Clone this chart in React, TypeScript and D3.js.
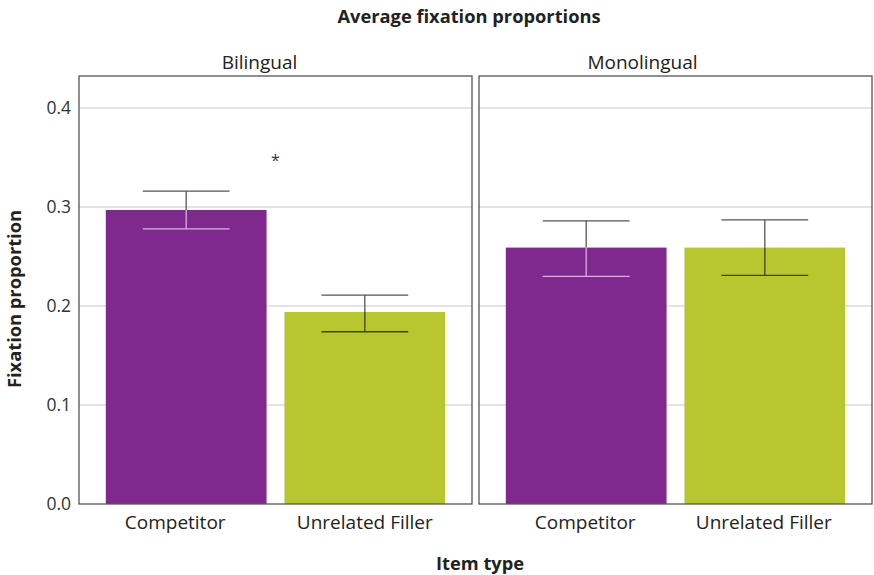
import * as d3 from 'd3';
import React from 'react';

// facets, categories and values
const panels = ['Bilingual', 'Monolingual'];
const itemTypes = ['Competitor', 'Unrelated Filler'];
const means = [
  [0.297, 0.194],
  [0.259, 0.259],
];
const lowers = [
  [0.278, 0.174],
  [0.23, 0.231],
];
const uppers = [
  [0.316, 0.211],
  [0.286, 0.287],
];
const yTicks = [0, 0.1, 0.2, 0.3, 0.4];
const markers = [{ panel: 'Bilingual', value: 0.35, label: '*' }];

const barColors = ['#7f288e', '#b8c630'];
const innerErrColors = ['#d9b1e0', '#3f4418'];

// label nudges as they sit in the reference
const stripNudge = [-16, -33];
const tickNudge = [
  [-11, 0],
  [-1, -1],
];

const font = '"Open Sans", "Noto Sans", sans-serif';

export default function App() {
  const width = 874;
  const height = 575;
  const top = 76;
  const bottom = 504;
  const panelLeft = 79;
  const panelW = 393;
  const panelGap = 7;

  const y = d3.scaleLinear().domain([0, 0.4]).range([bottom, 108]);
  const panelX = d3
    .scaleOrdinal<string, number>()
    .domain(panels)
    .range(panels.map((p, i) => panelLeft + i * (panelW + panelGap)));

  return (
    <svg width={width} height={height} style={{ position: 'absolute', left: 0, top: 0, fontFamily: font }}>
      <rect width={width} height={height} fill="#fff" />
      <text x={469} y={23} textAnchor="middle" fontSize={18.3} fontWeight="bold" fill="#222">
        Average fixation proportions
      </text>

      {/* y axis labels */}
      {yTicks.map((t) => (
        <text key={t} x={71} y={y(t)} dy="0.35em" textAnchor="end" fontSize={17.5} fill="#333">
          {t.toFixed(1)}
        </text>
      ))}
      <text
        transform={`translate(21,${299}) rotate(-90)`}
        textAnchor="middle"
        fontSize={18.3}
        fontWeight="bold"
        fill="#222"
      >
        Fixation proportion
      </text>

      {panels.map((panel, pi) => {
        const x0 = panelX(panel);
        const x = d3
          .scaleBand()
          .domain(itemTypes)
          .range([x0, x0 + panelW])
          .paddingInner(0.1)
          .paddingOuter(0.15);
        const bw = x.bandwidth();
        const cap = bw * 0.27;
        return (
          <g key={panel}>
            <text x={x0 + panelW / 2 + stripNudge[pi]} y={69} textAnchor="middle" fontSize={19} fill="#222">
              {panel}
            </text>
            {yTicks.slice(1).map((t) => (
              <line key={t} x1={x0} x2={x0 + panelW} y1={y(t)} y2={y(t)} stroke="#c8c8c8" strokeWidth={1} />
            ))}
            {itemTypes.map((it, ci) => {
              const bx = x(it)!;
              const cx = bx + bw / 2;
              const m = means[pi][ci];
              const lo = lowers[pi][ci];
              const hi = uppers[pi][ci];
              return (
                <g key={it}>
                  <rect x={bx} y={y(m)} width={bw} height={y(0) - y(m)} fill={barColors[ci]} />
                  {/* part of the error bar above the bar */}
                  <line x1={cx} x2={cx} y1={y(hi)} y2={y(m)} stroke="#555" strokeWidth={1.3} />
                  <line x1={cx - cap} x2={cx + cap} y1={y(hi)} y2={y(hi)} stroke="#555" strokeWidth={1.3} />
                  {/* part inside the bar */}
                  <line x1={cx} x2={cx} y1={y(m)} y2={y(lo)} stroke={innerErrColors[ci]} strokeWidth={1.3} />
                  <line x1={cx - cap} x2={cx + cap} y1={y(lo)} y2={y(lo)} stroke={innerErrColors[ci]} strokeWidth={1.3} />
                  <text x={cx + tickNudge[pi][ci]} y={529} textAnchor="middle" fontSize={19} fill="#222">
                    {it}
                  </text>
                </g>
              );
            })}
            {markers
              .filter((mk) => mk.panel === panel)
              .map((mk, i) => (
                <text key={i} x={x0 + panelW / 2} y={y(mk.value)} dy="0.55em" textAnchor="middle" fontSize={16} fill="#333">
                  {mk.label}
                </text>
              ))}
            <rect x={x0} y={top} width={panelW} height={bottom - top} fill="none" stroke="#555" strokeWidth={1.3} />
          </g>
        );
      })}

      <text x={480} y={570} textAnchor="middle" fontSize={18.3} fontWeight="bold" fill="#222">
        Item type
      </text>
    </svg>
  );
}
